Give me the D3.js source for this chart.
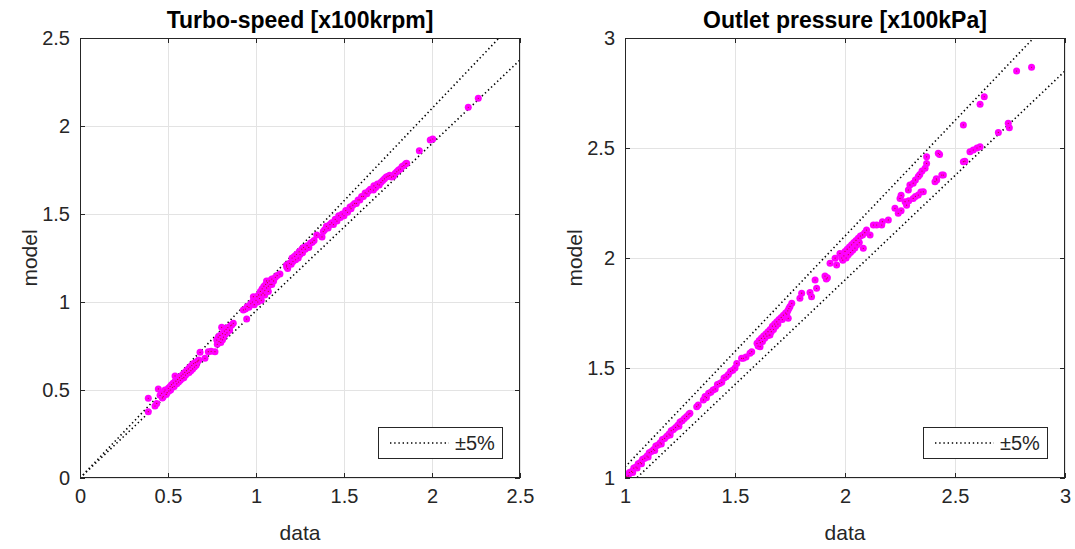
<!DOCTYPE html>
<html>
<head>
<meta charset="utf-8">
<script src="https://cdn.jsdelivr.net/npm/d3@7"></script>
<style>
html,body{margin:0;padding:0;background:#fff;}
svg{display:block;font-family:"Liberation Sans",Arial,Helvetica,sans-serif;}
</style>
</head>
<body>
<svg id="chart" width="1075" height="549"></svg>
<script>
// ---- data ----
const titles = ["Turbo-speed [x100krpm]", "Outlet pressure [x100kPa]"];
const xLabel = "data";
const yLabel = "model";
const legendLabel = "\u00b15%";
const bandFactors = [1.05, 0.95];

const speedDomain = [0, 2.5];
const speedTicks = [0, 0.5, 1, 1.5, 2, 2.5];
const pressureDomain = [1, 3];
const pressureTicks = [1, 1.5, 2, 2.5, 3];

// [data, model] pairs, turbo-speed
const speedPoints = [
[0.388,0.453],[0.388,0.377],[0.426,0.409],[0.436,0.424],[0.445,0.506],[0.455,0.47],[0.464,0.481],[0.468,0.455],[0.473,0.462],[0.478,0.49],
[0.483,0.5],[0.49,0.475],[0.495,0.485],[0.502,0.51],[0.505,0.495],[0.512,0.52],[0.515,0.5],[0.52,0.53],[0.525,0.515],[0.53,0.54],
[0.535,0.52],[0.54,0.58],[0.545,0.55],[0.55,0.535],[0.555,0.56],[0.56,0.545],[0.565,0.57],[0.57,0.555],[0.575,0.58],[0.58,0.565],
[0.585,0.59],[0.59,0.57],[0.595,0.6],[0.6,0.585],[0.605,0.61],[0.61,0.595],[0.615,0.62],[0.62,0.6],[0.625,0.63],[0.63,0.61],
[0.635,0.64],[0.64,0.62],[0.645,0.65],[0.65,0.63],[0.655,0.655],[0.66,0.64],[0.665,0.66],[0.67,0.665],[0.675,0.67],
[0.682,0.714],[0.729,0.718],[0.767,0.718],[0.71,0.68],[0.745,0.72],
[0.777,0.784],[0.78,0.76],[0.785,0.8],[0.79,0.775],[0.795,0.81],[0.8,0.79],[0.805,0.856],[0.81,0.82],[0.815,0.8],[0.82,0.835],
[0.825,0.815],[0.83,0.845],[0.835,0.825],[0.84,0.855],[0.85,0.84],[0.855,0.865],[0.862,0.869],[0.871,0.879],[0.8,0.77],[0.81,0.785],
[0.947,0.903],[0.928,0.955],
[0.94,0.96],[0.95,0.975],[0.96,0.97],[0.97,0.99],[0.98,1.0],[0.985,1.03],[0.99,0.985],[1.0,1.01],[1.005,1.03],[1.01,1.0],
[1.015,1.04],[1.02,1.02],[1.025,1.06],[1.03,1.04],[1.035,1.075],[1.04,1.05],[1.045,1.09],[1.05,1.065],[1.055,1.1],[1.06,1.08],
[1.065,1.11],[1.07,1.09],[1.075,1.12],[1.08,1.1],[1.09,1.13],[1.1,1.12],[1.11,1.14],[1.12,1.15],[1.136,1.159],
[1.03,1.01],[1.05,1.04],[1.07,1.06],[1.09,1.1],[1.06,1.12],
[1.174,1.21],[1.174,1.2],[1.18,1.19],[1.19,1.22],[1.2,1.215],[1.205,1.25],[1.21,1.23],[1.22,1.26],[1.225,1.24],[1.23,1.27],
[1.24,1.25],[1.245,1.285],[1.25,1.27],[1.26,1.3],[1.265,1.28],[1.27,1.31],[1.28,1.3],[1.29,1.32],[1.3,1.31],[1.31,1.335],
[1.32,1.34],[1.33,1.35],[1.345,1.38],[1.382,1.4],[1.375,1.37],
[1.39,1.41],[1.4,1.43],[1.41,1.42],[1.42,1.44],[1.43,1.45],[1.44,1.44],[1.45,1.47],[1.46,1.46],[1.47,1.49],[1.48,1.48],
[1.49,1.5],[1.5,1.49],[1.51,1.52],[1.52,1.51],[1.534,1.54],[1.54,1.53],[1.55,1.55],[1.56,1.56],[1.57,1.56],[1.58,1.58],
[1.59,1.58],[1.6,1.6],[1.61,1.6],[1.62,1.62],[1.63,1.615],[1.64,1.63],[1.65,1.64],[1.667,1.636],[1.67,1.66],[1.68,1.65],
[1.69,1.67],[1.7,1.665],[1.71,1.68],[1.72,1.69],[1.73,1.7],[1.74,1.71],[1.75,1.715],[1.76,1.72],[1.77,1.71],[1.78,1.715],
[1.79,1.73],[1.8,1.74],[1.81,1.75],[1.82,1.755],[1.83,1.77],[1.84,1.775],[1.85,1.785],[1.856,1.788],
[1.928,1.86],[1.99,1.92],[2.004,1.926],[2.206,2.106],[2.263,2.157]
];

// [data, model] pairs, outlet pressure
const pressurePoints = [
[1.008,1.006],[1.015,1.01],[1.02,1.025],[1.03,1.03],[1.035,1.025],[1.04,1.045],[1.05,1.05],[1.055,1.045],[1.06,1.065],[1.07,1.07],
[1.075,1.065],[1.08,1.085],[1.09,1.09],[1.1,1.1],[1.105,1.095],[1.11,1.115],[1.12,1.12],[1.13,1.13],[1.135,1.125],[1.14,1.145],
[1.15,1.15],[1.16,1.16],[1.165,1.155],[1.17,1.175],[1.18,1.18],[1.19,1.19],[1.2,1.2],[1.205,1.195],[1.21,1.215],[1.22,1.22],
[1.23,1.23],[1.24,1.24],[1.245,1.235],[1.25,1.255],[1.26,1.26],[1.27,1.27],[1.28,1.28],[1.29,1.29],[1.295,1.294],
[1.326,1.324],[1.333,1.332],[1.364,1.37],
[1.356,1.355],[1.37,1.365],[1.38,1.385],[1.39,1.39],[1.4,1.4],[1.41,1.405],[1.42,1.425],[1.43,1.43],[1.44,1.435],[1.45,1.455],
[1.46,1.46],[1.47,1.47],[1.48,1.485],[1.49,1.49],[1.5,1.5],[1.508,1.521],
[1.53,1.544],[1.538,1.544],[1.55,1.55],[1.568,1.567],[1.576,1.574],[1.614,1.597],
[1.6,1.612],[1.605,1.6],[1.61,1.625],[1.615,1.615],[1.62,1.635],[1.625,1.62],[1.63,1.645],[1.635,1.635],[1.64,1.655],[1.645,1.645],
[1.65,1.665],[1.655,1.65],[1.66,1.675],[1.665,1.665],[1.67,1.69],[1.675,1.675],[1.68,1.7],[1.685,1.69],[1.69,1.71],[1.695,1.7],
[1.7,1.72],[1.71,1.73],[1.715,1.72],[1.72,1.74],[1.73,1.75],[1.735,1.745],[1.74,1.76],[1.745,1.77],[1.75,1.78],[1.758,1.794],
[1.742,1.726],[1.659,1.65],
[1.795,1.817],[1.803,1.84],[1.841,1.843],[1.848,1.824],[1.871,1.862],[1.864,1.9],[1.909,1.918],[1.915,1.905],[1.92,1.91],
[1.932,1.976],[1.955,1.999],[1.962,1.968],
[1.977,2.021],[1.985,2.0],[1.99,1.99],[1.995,2.01],[2.0,2.03],[2.005,2.0],[2.01,2.04],[2.015,2.015],[2.02,2.05],[2.025,2.025],
[2.03,2.06],[2.035,2.035],[2.04,2.07],[2.045,2.045],[2.05,2.08],[2.055,2.06],[2.06,2.09],[2.065,2.07],[2.07,2.1],[2.08,2.105],
[2.083,2.044],[2.09,2.115],[2.098,2.127],[2.114,2.105],[2.129,2.15],[2.144,2.15],[2.167,2.15],[2.17,2.165],[2.197,2.173],
[2.227,2.226],[2.242,2.203],[2.255,2.215],[2.273,2.256],[2.28,2.24],[2.29,2.26],[2.31,2.271],[2.32,2.28],[2.333,2.286],[2.345,2.3],[2.356,2.301],
[2.25,2.271],[2.255,2.285],[2.288,2.309],[2.295,2.332],[2.31,2.34],[2.32,2.355],[2.333,2.37],[2.34,2.38],[2.35,2.395],[2.364,2.408],
[2.371,2.43],[2.371,2.46],
[2.409,2.347],[2.415,2.36],[2.44,2.377],[2.424,2.476],[2.43,2.47],[2.417,2.355],[2.447,2.377],
[2.538,2.605],[2.538,2.438],[2.545,2.44],[2.568,2.483],[2.583,2.491],[2.6,2.5],[2.614,2.506],[2.614,2.699],[2.633,2.733],
[2.697,2.571],[2.742,2.612],[2.747,2.592],[2.78,2.85],[2.848,2.867]
];

// ---- drawing ----
const svg = d3.select("#chart");
const axisColor = "#262626";
const gridColor = "#e3e3e3";
const tickFont = 20;
const labelFont = 21;
const titleFont = 23;

const panels = [
  {title: titles[0], domain: speedDomain, ticks: speedTicks, points: speedPoints, left: 80, right: 520},
  {title: titles[1], domain: pressureDomain, ticks: pressureTicks, points: pressurePoints, left: 625, right: 1065}
];
const plotTop = 38, plotBottom = 478;

panels.forEach(p => {
  const x = d3.scaleLinear().domain(p.domain).range([p.left, p.right]);
  const y = d3.scaleLinear().domain(p.domain).range([plotBottom, plotTop]);
  const g = svg.append("g");
  const w = p.right - p.left, h = plotBottom - plotTop;

  const clipId = "clip" + p.left;
  svg.append("clipPath").attr("id", clipId).append("rect")
    .attr("x", p.left).attr("y", plotTop).attr("width", w).attr("height", h);

  // grid
  g.append("g").selectAll("line").data(p.ticks).join("line")
    .attr("x1", d => x(d)).attr("x2", d => x(d)).attr("y1", plotTop).attr("y2", plotBottom)
    .attr("stroke", gridColor).attr("stroke-width", 1).attr("shape-rendering", "crispEdges");
  g.append("g").selectAll("line").data(p.ticks).join("line")
    .attr("y1", d => y(d)).attr("y2", d => y(d)).attr("x1", p.left).attr("x2", p.right)
    .attr("stroke", gridColor).attr("stroke-width", 1).attr("shape-rendering", "crispEdges");

  // band lines
  const plot = g.append("g").attr("clip-path", `url(#${clipId})`);
  bandFactors.forEach(f => {
    plot.append("line")
      .attr("x1", x(p.domain[0])).attr("y1", y(p.domain[0] * f))
      .attr("x2", x(p.domain[1])).attr("y2", y(p.domain[1] * f))
      .attr("stroke", "#000").attr("stroke-width", 1.6)
      .attr("stroke-dasharray", "1.4,2.8");
  });

  // points
  plot.append("g").selectAll("circle").data(p.points).join("circle")
    .attr("cx", d => x(d[0])).attr("cy", d => y(d[1])).attr("r", 3.5)
    .attr("fill", "#ff00ff");
  plot.append("g").selectAll("circle").data(p.points).join("circle")
    .attr("cx", d => x(d[0])).attr("cy", d => y(d[1])).attr("r", 0.6)
    .attr("fill", "#d4002a");

  // axes (ticks inward, box)
  const fmt = d => d3.format("")(d);
  const xb = g.append("g").attr("transform", `translate(0,${plotBottom})`)
    .call(d3.axisBottom(x).tickValues(p.ticks).tickFormat(fmt).tickSizeInner(-5).tickSizeOuter(0).tickPadding(10));
  const yl = g.append("g").attr("transform", `translate(${p.left},0)`)
    .call(d3.axisLeft(y).tickValues(p.ticks).tickFormat(fmt).tickSizeInner(-5).tickSizeOuter(0).tickPadding(10));
  const xt = g.append("g").attr("transform", `translate(0,${plotTop})`)
    .call(d3.axisTop(x).tickValues(p.ticks).tickFormat("").tickSizeInner(-5).tickSizeOuter(0));
  const yr = g.append("g").attr("transform", `translate(${p.right},0)`)
    .call(d3.axisRight(y).tickValues(p.ticks).tickFormat("").tickSizeInner(-5).tickSizeOuter(0));
  [xb, yl, xt, yr].forEach(a => {
    a.select(".domain").remove();
    a.selectAll("line").attr("stroke", axisColor);
    a.selectAll("text").attr("fill", axisColor).style("font-size", tickFont + "px")
      .style("font-family", "'Liberation Sans', Arial, sans-serif");
  });
  xb.selectAll("text").attr("dy", "0.71em").attr("y", 11);

  g.append("rect").attr("x", p.left + 0.5).attr("y", plotTop + 0.5).attr("width", w - 1).attr("height", h - 1)
    .attr("fill", "none").attr("stroke", axisColor).attr("stroke-width", 1);

  g.append("text").attr("x", (p.left + p.right) / 2).attr("y", 28)
    .attr("text-anchor", "middle").attr("font-weight", "bold").attr("font-size", titleFont)
    .attr("fill", "#000").text(p.title);
  g.append("text").attr("x", (p.left + p.right) / 2).attr("y", 540)
    .attr("text-anchor", "middle").attr("font-size", labelFont).attr("fill", axisColor).text(xLabel);
  g.append("text").attr("transform", `translate(${p.left - 43},${(plotTop + plotBottom) / 2}) rotate(-90)`)
    .attr("text-anchor", "middle").attr("font-size", labelFont).attr("fill", axisColor).text(yLabel);

  // legend
  const lx = p.right - 142, ly = 427, lw = 124, lh = 31;
  const lg = g.append("g");
  lg.append("rect").attr("x", lx + 0.5).attr("y", ly + 0.5).attr("width", lw).attr("height", lh)
    .attr("fill", "#fff").attr("stroke", axisColor).attr("stroke-width", 1);
  lg.append("line").attr("x1", lx + 12).attr("x2", lx + 71).attr("y1", ly + 16).attr("y2", ly + 16)
    .attr("stroke", "#000").attr("stroke-width", 1.6).attr("stroke-dasharray", "1.4,2.8");
  lg.append("text").attr("x", lx + 77).attr("y", ly + 23).attr("font-size", 20)
    .attr("fill", axisColor).text(legendLabel);
});
</script>
</body>
</html>
